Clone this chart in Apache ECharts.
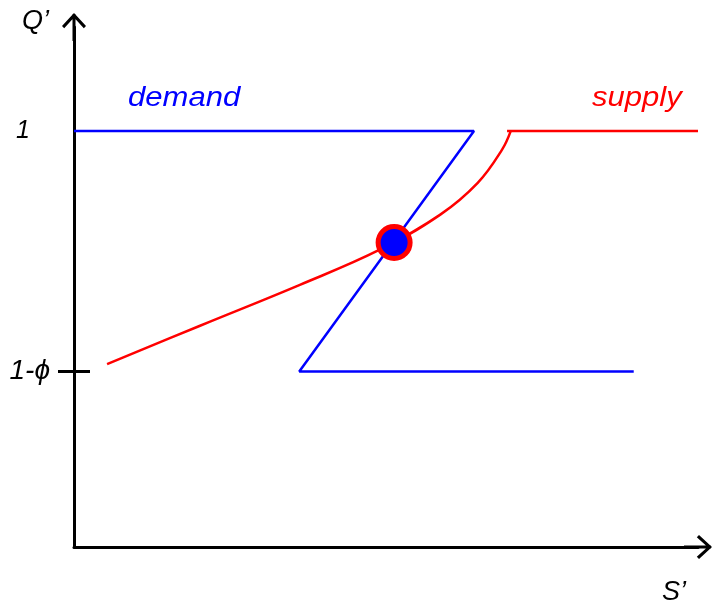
<!DOCTYPE html>
<html>
<head>
<meta charset="utf-8">
<script src="https://cdn.jsdelivr.net/npm/echarts@6/dist/echarts.min.js"></script>
<style>
  html, body { margin: 0; padding: 0; background: #fff; }
  #main { width: 715px; height: 606px; }
</style>
</head>
<body>
<div id="main"></div>
<script>
// S' runs 0..100 along the x axis, Q' is in its own units (1 and 1-phi, phi = 0.5)
var demandX = [0, 64.1, 36.1, 89.7];
var demandY = [1, 1, 0.5, 0.5];
var supplyCurveX = [5.3, 20.2, 36.2, 49.0, 58.7, 64.7, 68.6, 70.0];
var supplyCurveY = [0.515, 0.595, 0.680, 0.753, 0.826, 0.892, 0.961, 1.0];
var supplyFlatX = [69.4, 100];
var supplyFlatY = [1, 1];
var equilibrium = [51.3, 0.768];
var yTickValues = [1, 0.5];
var yTickLabels = ['1', '1-ϕ'];

function pairs(xs, ys) {
  return xs.map(function (x, i) { return [x, ys[i]]; });
}

// open arrow head (with shaft), drawn pointing up
var arrowHead = 'path://M12,0 L24,13 L21.8,15.2 L12,4.4 L2.2,15.2 L0,13 Z M10.5,1 L13.5,1 L13.5,28 L10.5,28 Z';

var chartDom = document.getElementById('main');
var myChart = echarts.init(chartDom);
var font = '"Liberation Sans", Arial, sans-serif';

var option = {
  animation: false,
  grid: { left: 74, right: 17, top: 27, bottom: 58 },
  xAxis: {
    type: 'value',
    min: 0,
    max: 100,
    name: 'S’',
    nameLocation: 'end',
    nameGap: 0,
    nameTextStyle: {
      fontFamily: font, fontStyle: 'italic', fontSize: 27, color: '#000',
      align: 'right', verticalAlign: 'top', padding: [32, 12, 0, 0]
    },
    axisLine: {
      onZero: false,
      symbol: ['none', arrowHead],
      symbolSize: [24, 28],
      lineStyle: { color: '#000', width: 3 }
    },
    axisTick: { show: false },
    axisLabel: { show: false },
    splitLine: { show: false }
  },
  yAxis: [
    {
      type: 'value',
      min: 0.135,
      max: 1.216,
      name: 'Q’',
      nameLocation: 'end',
      nameGap: 6,
      nameTextStyle: {
        fontFamily: font, fontStyle: 'italic', fontSize: 27, color: '#000',
        align: 'right', verticalAlign: 'middle', padding: [0, 25, 0, 0]
      },
      axisLine: {
        onZero: false,
        symbol: ['none', arrowHead],
        symbolSize: [24, 28],
        lineStyle: { color: '#000', width: 3 }
      },
      axisTick: {
        show: true,
        customValues: [yTickValues[1]],
        length: 16,
        lineStyle: { color: '#000', width: 3 }
      },
      axisLabel: {
        customValues: yTickValues,
        margin: 24,
        formatter: function (v) {
          var i = yTickValues.indexOf(v);
          return i === 0 ? '{one|' + yTickLabels[i] + '}' : '{other|' + yTickLabels[i] + '}';
        },
        rich: {
          one: { fontFamily: font, fontStyle: 'italic', fontSize: 25, color: '#000', padding: [0, 20, 0, 0] },
          other: { fontFamily: font, fontStyle: 'italic', fontSize: 28, color: '#000' }
        }
      },
      splitLine: { show: false }
    },
    {
      // inner half of the 1-phi tick
      type: 'value',
      min: 0.135,
      max: 1.216,
      position: 'left',
      axisLine: { show: false },
      axisTick: {
        show: true,
        inside: true,
        customValues: [yTickValues[1]],
        length: 16,
        lineStyle: { color: '#000', width: 3 }
      },
      axisLabel: { show: false },
      splitLine: { show: false }
    }
  ],
  graphic: [
    {
      type: 'text', x: 128, y: 98, scaleX: 1.15,
      style: { text: 'demand', fill: '#0000ff', font: 'italic 27px ' + font, verticalAlign: 'middle' }
    },
    {
      type: 'text', x: 592, y: 98, scaleX: 1.15,
      style: { text: 'supply', fill: '#ff0000', font: 'italic 27px ' + font, verticalAlign: 'middle' }
    }
  ],
  series: [
    {
      name: 'demand',
      type: 'line',
      data: pairs(demandX, demandY),
      symbol: 'none',
      lineStyle: { color: '#0000ff', width: 2.5 }
    },
    {
      name: 'supply',
      type: 'line',
      data: pairs(supplyCurveX, supplyCurveY),
      symbol: 'none',
      smooth: 0.4,
      lineStyle: { color: '#ff0000', width: 2.5 }
    },
    {
      name: 'supply flat',
      type: 'line',
      data: pairs(supplyFlatX, supplyFlatY),
      symbol: 'none',
      lineStyle: { color: '#ff0000', width: 2.5 }
    },
    {
      name: 'equilibrium',
      type: 'scatter',
      data: [equilibrium],
      symbolSize: 32,
      z: 5,
      itemStyle: { color: '#0000ff', borderColor: '#ff0000', borderWidth: 5, opacity: 1 }
    }
  ]
};
option && myChart.setOption(option);
</script>
</body>
</html>
